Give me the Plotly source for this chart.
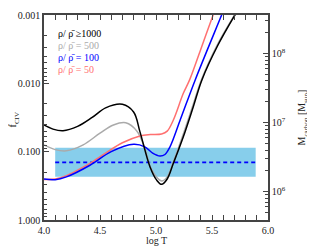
import plotly.graph_objects as go

# ---- data (log T, f_CIV) ----
black_T = [4.00, 4.08, 4.17, 4.30, 4.43, 4.55, 4.70, 4.80, 4.857, 4.946, 5.006, 5.05, 5.10, 5.155, 5.244, 5.333, 5.41, 5.55, 5.705, 5.80]
black_f = [0.0407, 0.0468, 0.0494, 0.0427, 0.0316, 0.0229, 0.0203, 0.0263, 0.0513, 0.166, 0.261, 0.301, 0.251, 0.148, 0.0605, 0.0220, 0.00891, 0.00282, 0.00100, 0.00056]

gray_T = [4.00, 4.10, 4.20, 4.35, 4.50, 4.62, 4.73, 4.83, 4.90, 4.96, 5.05, 5.10, 5.155, 5.24, 5.33, 5.41, 5.55, 5.70, 5.80]
gray_f = [0.0800, 0.0933, 0.0970, 0.0794, 0.0537, 0.0407, 0.0378, 0.0501, 0.0891, 0.182, 0.269, 0.234, 0.141, 0.0575, 0.0209, 0.00851, 0.00269, 0.00100, 0.00050]

blue_T = [4.00, 4.10, 4.20, 4.41, 4.60, 4.80, 4.90, 4.97, 5.036, 5.08, 5.125, 5.22, 5.35, 5.586, 5.70]
blue_f = [0.251, 0.257, 0.234, 0.158, 0.100, 0.0782, 0.0851, 0.105, 0.116, 0.110, 0.0851, 0.0331, 0.00891, 0.00100, 0.00035]

red_T = [4.00, 4.10, 4.20, 4.30, 4.41, 4.55, 4.70, 4.857, 4.95, 5.05, 5.10, 5.155, 5.244, 5.30, 5.40, 5.51, 5.60]
red_f = [0.255, 0.251, 0.224, 0.186, 0.148, 0.105, 0.0741, 0.0589, 0.0562, 0.0550, 0.0501, 0.0344, 0.0140, 0.00891, 0.00316, 0.00100, 0.00040]

band_T = [4.10, 5.89]
band_lo = 0.088
band_hi = 0.233
band_mid = 0.1436

legend_labels = ["ρ/ ρ̄ ≥1000", "ρ/ ρ̄ = 500", "ρ/ ρ̄ = 100", "ρ/ ρ̄ = 50"]
legend_colors = ["#000000", "#aaaaaa", "#0000ff", "#ff7070"]

y_tickvals = [0.001, 0.01, 0.1, 1.0]
y_ticktext = ["0.001", "0.010", "0.100", "1.000"]
y2_tickvals = [1e6, 1e7, 1e8]
y2_ticktext = ["10<sup>6</sup>", "10<sup>7</sup>", "10<sup>8</sup>"]
x_tickvals = [4.0, 4.5, 5.0, 5.5, 6.0]
x_ticktext = ["4.0", "4.5", "5.0", "5.5", "6.0"]

FONT = "Times New Roman"
AX = "#444444"

fig = go.Figure()

# band
fig.add_trace(go.Scatter(
    x=[band_T[0], band_T[1], band_T[1], band_T[0], band_T[0]],
    y=[band_lo, band_lo, band_hi, band_hi, band_lo],
    fill="toself", fillcolor="#87ceeb", mode="lines",
    line=dict(width=0, color="#87ceeb"), showlegend=False, hoverinfo="skip"))
fig.add_trace(go.Scatter(x=band_T, y=[band_mid, band_mid], mode="lines",
                         line=dict(color="#0000ff", width=1.6, dash="4px,3px"), showlegend=False))

for T, f, c in [(gray_T, gray_f, legend_colors[1]), (red_T, red_f, legend_colors[3]),
                (blue_T, blue_f, legend_colors[2]), (black_T, black_f, legend_colors[0])]:
    fig.add_trace(go.Scatter(x=T, y=f, mode="lines", line=dict(color=c, width=1.5, shape="spline"),
                             showlegend=False))

# invisible trace for right axis
fig.add_trace(go.Scatter(x=[5.0], y=[1e7], yaxis="y2", mode="markers",
                         marker=dict(opacity=0), showlegend=False, hoverinfo="skip"))

def minor_vals(lo, hi):
    out = []
    for d in range(lo, hi):
        for m in range(2, 10):
            out.append(m * 10 ** d)
    return out

# page body has an 8px default margin: figure is shrunk/shifted to compensate
fig.update_layout(
    width=307, height=244,
    margin=dict(l=36, r=47, t=7, b=32),
    paper_bgcolor="white", plot_bgcolor="white",
    font=dict(family=FONT, size=10, color="#222222"),
    xaxis=dict(range=[4.0, 6.0], tickvals=x_tickvals, ticktext=x_ticktext, automargin=False,
               ticks="inside", ticklen=5, tickcolor=AX, showline=True, linecolor=AX, linewidth=1.5,
               mirror="allticks", showgrid=False, zeroline=False,
               tickfont=dict(family=FONT, size=10),
               minor=dict(ticks="inside", ticklen=3, dtick=0.1, tickcolor=AX, showgrid=False)),
    yaxis=dict(type="log", range=[0, -3], tickvals=y_tickvals, ticktext=y_ticktext, automargin=False,
               ticks="inside", ticklen=5, tickcolor=AX, showline=True, linecolor=AX, linewidth=1.5,
               showgrid=False, zeroline=False,
               tickfont=dict(family=FONT, size=10),
               minor=dict(ticks="inside", ticklen=3, tickmode="array", tickvals=minor_vals(-3, 0),
                          tickcolor=AX, showgrid=False)),
    yaxis2=dict(type="log", range=[5.59, 8.555], overlaying="y", side="right", automargin=False,
                tickvals=y2_tickvals, ticktext=y2_ticktext,
                ticks="inside", ticklen=5, tickcolor=AX, showline=True, linecolor=AX, linewidth=1.5,
                showgrid=False, zeroline=False,
                tickfont=dict(family=FONT, size=10),
                minor=dict(ticks="inside", ticklen=3, tickmode="array", tickvals=minor_vals(5, 9),
                           tickcolor=AX, showgrid=False)),
)

# axis titles
fig.add_annotation(xref="paper", yref="paper", x=0.5, y=-0.102, text="log T", showarrow=False,
                   xanchor="center", yanchor="middle", font=dict(size=10, family=FONT))
fig.add_annotation(xref="paper", yref="paper", x=-0.132, y=0.488, text="f<sub>CIV</sub>", showarrow=False,
                   textangle=-90, xanchor="center", yanchor="middle", font=dict(size=10, family=FONT))
fig.add_annotation(xref="paper", yref="paper", x=1.156, y=0.50, text="M<sub>carbon</sub> [M<sub>sun</sub>]",
                   showarrow=False, textangle=-90, xanchor="center", yanchor="middle",
                   font=dict(size=10, family=FONT))

for i, (lab, col) in enumerate(zip(legend_labels, legend_colors)):
    fig.add_annotation(xref="paper", yref="paper", x=0.054, y=0.912 - i * 0.0585,
                       text=lab, showarrow=False, xanchor="left", yanchor="middle",
                       font=dict(color=col, size=10, family=FONT))

fig.write_html("out.html")
